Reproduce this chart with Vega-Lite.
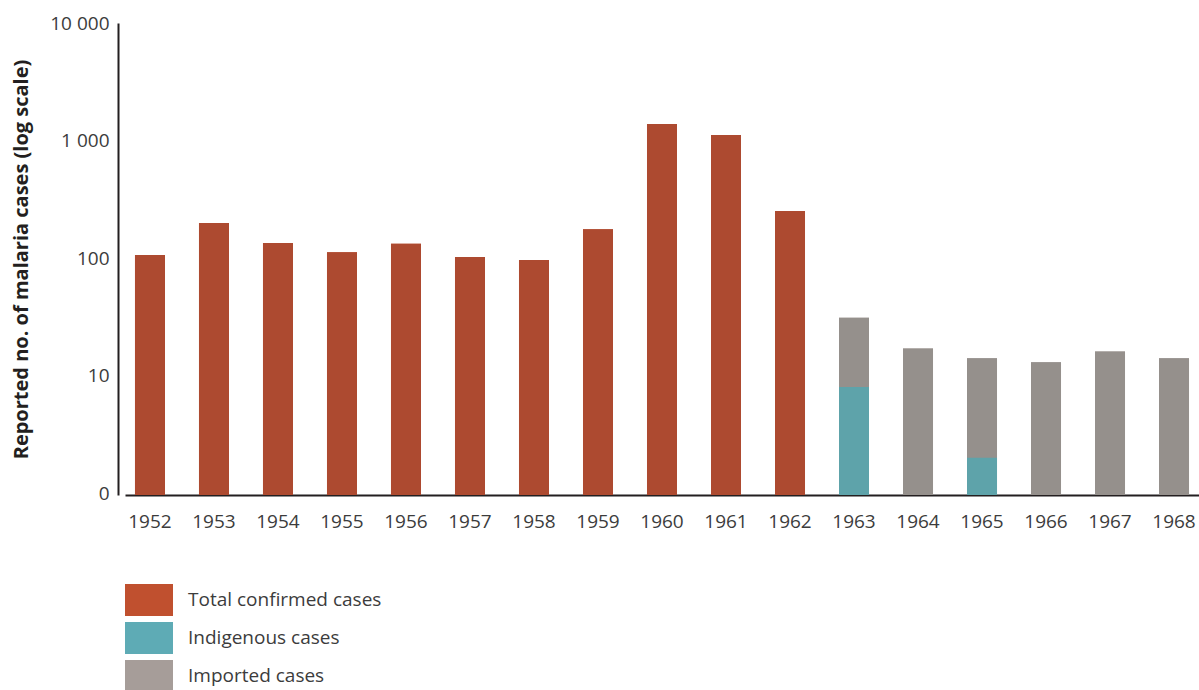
{
  "$schema": "https://vega.github.io/schema/vega-lite/v6.json",
  "width": 1074,
  "height": 472,
  "autosize": {"type": "none"},
  "padding": {"left": 125, "top": 23, "right": 0, "bottom": 195},
  "background": "white",
  "config": {"view": {"stroke": null}, "font": "Open Sans"},
  "data": {
    "values": [
      {"year": "1952", "series": "Total confirmed cases", "cases": 106},
      {"year": "1953", "series": "Total confirmed cases", "cases": 199},
      {"year": "1954", "series": "Total confirmed cases", "cases": 134},
      {"year": "1955", "series": "Total confirmed cases", "cases": 112},
      {"year": "1956", "series": "Total confirmed cases", "cases": 132},
      {"year": "1957", "series": "Total confirmed cases", "cases": 102},
      {"year": "1958", "series": "Total confirmed cases", "cases": 96},
      {"year": "1959", "series": "Total confirmed cases", "cases": 176},
      {"year": "1960", "series": "Total confirmed cases", "cases": 1380},
      {"year": "1961", "series": "Total confirmed cases", "cases": 1114},
      {"year": "1962", "series": "Total confirmed cases", "cases": 251},
      {"year": "1963", "series": "Imported cases", "cases": 31},
      {"year": "1964", "series": "Imported cases", "cases": 17},
      {"year": "1965", "series": "Imported cases", "cases": 14},
      {"year": "1966", "series": "Imported cases", "cases": 13},
      {"year": "1967", "series": "Imported cases", "cases": 16},
      {"year": "1968", "series": "Imported cases", "cases": 14},
      {"year": "1963", "series": "Indigenous cases", "cases": 8},
      {"year": "1965", "series": "Indigenous cases", "cases": 2}
    ]
  },
  "encoding": {
    "x": {
      "field": "year",
      "type": "ordinal",
      "scale": {"paddingInner": 0.53125, "paddingOuter": 0.156},
      "axis": {
        "title": null,
        "labelAngle": 0,
        "ticks": false,
        "domainColor": "#231F20",
        "domainWidth": 2,
        "labelFontSize": 19,
        "labelColor": "#3C3C3C",
        "labelPadding": 17
      }
    },
    "y": {
      "field": "cases",
      "type": "quantitative",
      "stack": null,
      "scale": {"type": "log", "domain": [0.962, 10000], "nice": false},
      "axis": {
        "title": "Reported no. of malaria cases (log scale)",
        "titleFontSize": 20,
        "titleFontWeight": "bold",
        "titleColor": "#231F20",
        "titlePadding": 18,
        "values": [1, 10, 100, 1000, 10000],
        "labelExpr": "datum.value == 1 ? '0' : replace(format(datum.value, ','), ',', ' ')",
        "ticks": false,
        "grid": false,
        "offset": 7,
        "domainColor": "#231F20",
        "domainWidth": 2,
        "labelFontSize": 19,
        "labelColor": "#3C3C3C",
        "labelPadding": 9
      }
    }
  },
  "layer": [
    {
      "mark": {"type": "bar"},
      "encoding": {
        "color": {
          "field": "series",
          "type": "nominal",
          "scale": {
            "domain": ["Total confirmed cases", "Indigenous cases", "Imported cases"],
            "range": ["#C0502F", "#5EABB5", "#A69D99"]
          },
          "legend": {
            "title": null,
            "orient": "none",
            "legendX": 8,
            "legendY": 561,
            "direction": "vertical",
            "symbolType": "M-1.5,-1H1.5V1H-1.5Z",
            "symbolSize": 1024,
            "symbolStrokeWidth": 0,
            "labelOffset": 23,
            "rowPadding": 6,
            "labelFontSize": 19,
            "labelColor": "#3C3C3C",
            "labelLimit": 400,
            "padding": 0
          }
        }
      }
    },
    {
      "mark": {"type": "bar"},
      "encoding": {
        "color": {
          "field": "series",
          "type": "nominal",
          "scale": {
            "domain": ["Total confirmed cases", "Indigenous cases", "Imported cases"],
            "range": ["#AD4A30", "#5EA3AA", "#95908C"]
          },
          "legend": null
        }
      }
    }
  ],
  "resolve": {"scale": {"color": "independent"}}
}
